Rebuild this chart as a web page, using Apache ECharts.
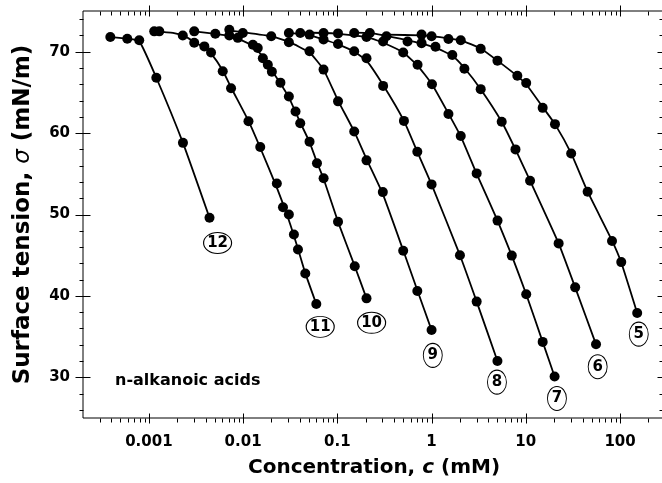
<!DOCTYPE html>
<html>
<head>
<meta charset="utf-8">
<script src="https://cdn.jsdelivr.net/npm/echarts@6/dist/echarts.min.js"></script>
<style>
html,body{margin:0;padding:0;background:#fff}
#chart{width:662px;height:483px}
</style>
</head>
<body>
<div id="chart"></div>
<script>
// axis ranges and tick labels
let xMin = 0.0002, xMax = 300;
let yMin = 25, yMax = 75;
let xMajor = [0.001, 0.01, 0.1, 1, 10, 100];
let xLabels = ['0.001', '0.01', '0.1', '1', '10', '100'];
let yMajor = [30, 40, 50, 60, 70];

// measured points: concentration (mM) and surface tension (mN/m)
let c5  = [0.332, 0.783, 1.0, 1.51, 2.04, 3.32, 5.0, 8.13, 10.1, 15.1, 20.4, 30.3, 45.3, 82.2, 103, 152];
let st5 = [71.9, 72.1, 71.9, 71.55, 71.4, 70.35, 68.9, 67.05, 66.15, 63.1, 61.1, 57.5, 52.8, 46.75, 44.15, 37.9];
let c6  = [0.151, 0.221, 0.556, 0.783, 1.10, 1.66, 2.23, 3.32, 5.55, 7.77, 11.1, 22.3, 33.4, 55.6];
let st6 = [72.3, 72.3, 71.25, 71.05, 70.6, 69.6, 67.9, 65.4, 61.4, 58.0, 54.15, 46.45, 41.05, 34.05];
let c7  = [0.0404, 0.0714, 0.1017, 0.204, 0.306, 0.500, 0.710, 1.01, 1.51, 2.04, 3.01, 5.01, 7.10, 10.1, 15.1, 20.2];
let st7 = [72.3, 72.3, 72.25, 71.8, 71.25, 69.9, 68.4, 66.0, 62.35, 59.65, 55.05, 49.25, 44.95, 40.2, 34.35, 30.1];
let c8  = [0.0306, 0.0507, 0.0714, 0.1017, 0.151, 0.204, 0.306, 0.509, 0.706, 1.0, 2.0, 3.01, 5.0];
let st8 = [72.3, 72.1, 71.5, 70.95, 70.05, 69.2, 65.8, 61.5, 57.7, 53.7, 45.0, 39.3, 32.0];
let c9  = [0.00714, 0.00993, 0.0199, 0.0306, 0.0507, 0.0714, 0.1017, 0.151, 0.204, 0.304, 0.500, 0.706, 1.0];
let st9 = [72.7, 72.3, 71.9, 71.15, 70.05, 67.8, 63.9, 60.2, 56.65, 52.75, 45.55, 40.6, 35.8];
let c10  = [0.00303, 0.00507, 0.00714, 0.00878, 0.0127, 0.0143, 0.0162, 0.0183, 0.0202, 0.0249, 0.0306, 0.0360, 0.0404, 0.0507, 0.0608, 0.0715, 0.1017, 0.153, 0.204];
let st10 = [72.5, 72.2, 72.0, 71.7, 70.85, 70.45, 69.2, 68.4, 67.55, 66.2, 64.5, 62.65, 61.2, 58.95, 56.3, 54.45, 49.1, 43.65, 39.7];
let c11  = [0.00114, 0.00129, 0.00229, 0.00303, 0.00388, 0.00457, 0.00608, 0.00745, 0.0114, 0.0152, 0.0228, 0.0265, 0.0306, 0.0346, 0.0382, 0.0457, 0.0598];
let st11 = [72.5, 72.5, 72.0, 71.1, 70.65, 69.9, 67.6, 65.5, 61.45, 58.3, 53.8, 50.9, 50.0, 47.55, 45.7, 42.75, 39.0];
let c12  = [0.00039, 0.00059, 0.00079, 0.0012, 0.0023, 0.0044];
let st12 = [71.8, 71.6, 71.4, 66.8, 58.8, 49.6];

// fitted curves
let fc5  = [0.332, 0.783, 1.0, 1.51, 2.04, 3.32, 5.0, 8.13, 10.1, 15.1, 20.4, 30.3, 45.3, 82.2, 103, 152];
let fs5  = [72.1, 72.0, 71.9, 71.65, 71.4, 70.4, 68.9, 67.0, 66.0, 63.2, 61.1, 57.5, 52.8, 46.8, 44.1, 37.9];
let fc6  = [0.151, 0.221, 0.556, 0.783, 1.10, 1.66, 2.23, 3.32, 5.55, 7.77, 11.1, 22.3, 33.4, 55.6];
let fs6  = [72.35, 72.3, 71.4, 71.0, 70.5, 69.5, 68.0, 65.4, 61.4, 58.0, 54.15, 46.45, 41.05, 34.05];
let fc7  = [0.0404, 0.0714, 0.1017, 0.204, 0.306, 0.500, 0.710, 1.01, 1.51, 2.04, 3.01, 5.01, 7.10, 10.1, 15.1, 20.2];
let fs7  = [72.35, 72.3, 72.2, 71.8, 71.1, 69.9, 68.3, 66.0, 62.4, 59.6, 55.0, 49.25, 44.95, 40.2, 34.35, 30.1];
let fc8  = [0.0306, 0.0507, 0.0714, 0.1017, 0.151, 0.204, 0.306, 0.509, 0.706, 1.0, 2.0, 3.01, 5.0];
let fs8  = [72.3, 72.0, 71.5, 70.9, 70.0, 68.9, 65.9, 61.5, 57.7, 53.7, 45.0, 39.3, 32.0];
let fc9  = [0.00714, 0.00993, 0.0199, 0.0306, 0.0507, 0.0714, 0.1017, 0.151, 0.204, 0.304, 0.500, 0.706, 1.0];
let fs9  = [72.6, 72.4, 71.9, 71.2, 69.9, 67.8, 64.0, 60.2, 56.8, 52.5, 45.6, 40.7, 35.8];
let fc10 = [0.00303, 0.00507, 0.00714, 0.00878, 0.0127, 0.0162, 0.0202, 0.0249, 0.0306, 0.0404, 0.0507, 0.0608, 0.0715, 0.1017, 0.153, 0.204];
let fs10 = [72.5, 72.2, 71.95, 71.6, 70.7, 69.4, 67.7, 66.1, 64.4, 61.3, 58.9, 56.4, 54.4, 49.1, 43.65, 39.7];
let fc11 = [0.00114, 0.0018, 0.0025, 0.00303, 0.00388, 0.00457, 0.00608, 0.00745, 0.0114, 0.0152, 0.0228, 0.0306, 0.0382, 0.0457, 0.0598];
let fs11 = [72.5, 72.3, 71.8, 71.2, 70.5, 69.8, 67.7, 65.6, 61.5, 58.2, 53.3, 49.3, 45.8, 42.8, 39.0];
let fc12 = [0.00039, 0.00059, 0.00079, 0.0012, 0.0023, 0.0044];
let fs12 = [71.8, 71.6, 71.3, 66.8, 58.8, 49.6];

// circled chain-length labels
let tagNames = ['12', '11', '10', '9', '8', '7', '6', '5'];
let tagX = [0.00536, 0.0658, 0.231, 1.03, 4.94, 21.4, 57.9, 158];
let tagY = [46.5, 36.2, 36.7, 32.7, 29.4, 27.4, 31.3, 35.3];

let fontFam = 'DejaVu Sans';
let points = [[c5, st5], [c6, st6], [c7, st7], [c8, st8], [c9, st9], [c10, st10], [c11, st11], [c12, st12]];
let curves = [[fc5, fs5], [fc6, fs6], [fc7, fs7], [fc8, fs8], [fc9, fs9], [fc10, fs10], [fc11, fs11], [fc12, fs12]];

function pairs(xs, ys) {
    return xs.map(function (x, i) { return [x, ys[i]]; });
}

let chart = echarts.init(document.getElementById('chart'));
let series = [];

curves.forEach(function (s) {
    series.push({
        type: 'line',
        data: pairs(s[0], s[1]),
        showSymbol: false,
        smooth: 0.15,
        lineStyle: {color: '#000', width: 1.8},
        silent: true,
        z: 2
    });
});

points.forEach(function (s) {
    series.push({
        type: 'scatter',
        data: pairs(s[0], s[1]),
        symbol: 'circle',
        symbolSize: 10,
        itemStyle: {color: '#000', opacity: 1},
        silent: true,
        z: 3
    });
});

// ticks on all four sides, placed through the axes
let tickData = [];
xMajor.forEach(function (v) {
    tickData.push([v, yMin, 0, 1]);
    tickData.push([v, yMax, 1, 1]);
});
for (let d = -4; d <= 2; d++) {
    for (let m = 2; m <= 9; m++) {
        let v = m * Math.pow(10, d);
        if (v > xMin * 1.001 && v < xMax * 0.999) {
            tickData.push([v, yMin, 0, 0]);
            tickData.push([v, yMax, 1, 0]);
        }
    }
}
for (let v = 26; v <= 74; v += 2) {
    let major = yMajor.indexOf(v) >= 0 ? 1 : 0;
    tickData.push([xMin, v, 2, major]);
    tickData.push([xMax, v, 3, major]);
}

function renderTick(params, api) {
    let p = api.coord([api.value(0), api.value(1)]);
    let side = api.value(2), major = api.value(3) === 1;
    let x = Math.round(p[0]) + 0.5, y = Math.round(p[1]) + 0.5;
    let sh;
    if (side === 0) sh = major ? {x1: x, y1: y - 5, x2: x, y2: y + 5} : {x1: x, y1: y, x2: x, y2: y + 4};
    else if (side === 1) sh = major ? {x1: x, y1: y - 6, x2: x, y2: y + 5} : {x1: x, y1: y, x2: x, y2: y + 4};
    else if (side === 2) sh = major ? {x1: x - 8, y1: y, x2: x + 7, y2: y} : {x1: x - 4, y1: y, x2: x, y2: y};
    else sh = major ? {x1: x - 8, y1: y, x2: x + 7, y2: y} : {x1: x - 6, y1: y, x2: x, y2: y};
    return {type: 'line', shape: sh, style: {stroke: '#000', lineWidth: 1}};
}

series.push({
    type: 'custom',
    data: tickData,
    renderItem: renderTick,
    clip: false,
    silent: true,
    z: 5
});

series.push({
    type: 'scatter',
    data: tagNames.map(function (n, i) {
        return {value: [tagX[i], tagY[i]], name: n, symbolSize: n.length > 1 ? [28, 21] : [19, 24]};
    }),
    symbol: 'circle',
    itemStyle: {color: '#fff', borderColor: '#000', borderWidth: 1, opacity: 1},
    label: {
        show: true,
        position: 'inside',
        formatter: '{b}',
        color: '#000',
        fontFamily: fontFam,
        fontWeight: 'bold',
        fontSize: 15
    },
    silent: true,
    z: 6
});

let option = {
    animation: false,
    backgroundColor: '#fff',
    grid: {
        left: 83, top: 11, width: 582, height: 407,
        show: true, borderColor: '#000', borderWidth: 1,
        containLabel: false, outerBoundsMode: 'none'
    },
    xAxis: {
        type: 'log',
        min: xMin, max: xMax, logBase: 10,
        axisLine: {show: false},
        axisTick: {show: false},
        splitLine: {show: false},
        axisLabel: {
            color: '#000', fontFamily: fontFam, fontWeight: 'bold', fontSize: 15, margin: 17,
            formatter: function (v) {
                for (let i = 0; i < xMajor.length; i++) {
                    if (Math.abs(xMajor[i] - v) / xMajor[i] < 1e-6) return xLabels[i];
                }
                return '';
            }
        },
        name: '{b|Concentration, }{bi|c}{b| (mM)}',
        nameLocation: 'middle',
        nameGap: 40,
        nameTextStyle: {
            rich: {
                b: {fontFamily: fontFam, fontWeight: 'bold', fontSize: 20, color: '#000'},
                bi: {fontFamily: fontFam, fontWeight: 'bold', fontStyle: 'italic', fontSize: 20, color: '#000'}
            }
        }
    },
    yAxis: {
        type: 'value',
        min: yMin, max: yMax, interval: 5,
        axisLine: {show: false},
        axisTick: {show: false},
        splitLine: {show: false},
        axisLabel: {
            color: '#000', fontFamily: fontFam, fontWeight: 'bold', fontSize: 15, margin: 13,
            formatter: function (v) { return yMajor.indexOf(v) >= 0 ? String(v) : ''; }
        },
        name: '{b|Surface tension, }{i|σ}{b| (mN/m)}',
        nameLocation: 'middle',
        nameGap: 48,
        nameTextStyle: {
            rich: {
                b: {fontFamily: fontFam, fontWeight: 'bold', fontSize: 23, color: '#000'},
                i: {fontFamily: fontFam, fontStyle: 'italic', fontSize: 23, color: '#000'}
            }
        }
    },
    graphic: [{
        type: 'text',
        left: 115, top: 373,
        style: {text: 'n-alkanoic acids', fill: '#000', font: 'bold 16px "' + fontFam + '"'},
        silent: true
    }],
    series: series
};

chart.setOption(option);
</script>
</body>
</html>
